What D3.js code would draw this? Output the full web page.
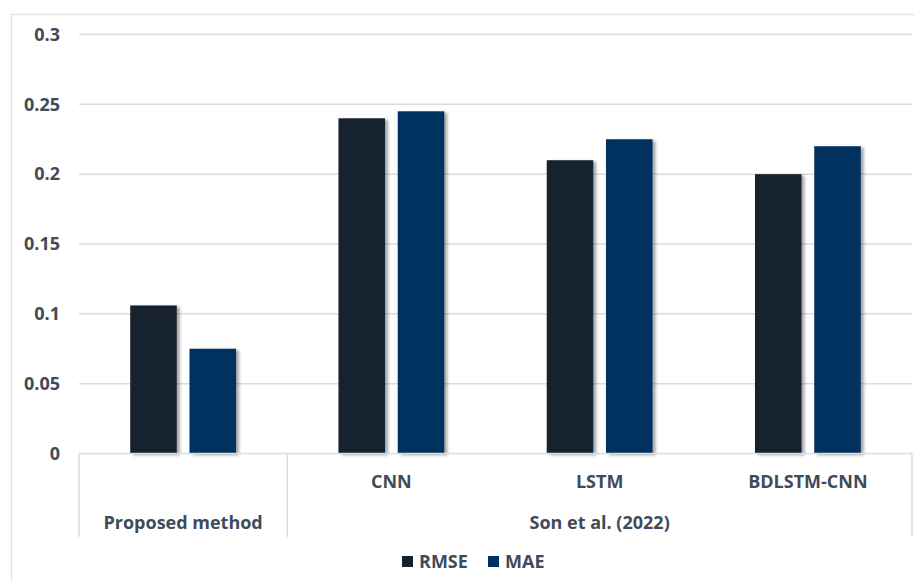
<!DOCTYPE html>
<html>
<head>
<meta charset="utf-8">
<script src="https://cdn.jsdelivr.net/npm/d3@7"></script>
<style>
  html, body { margin: 0; padding: 0; background: #fff; }
  svg { display: block; }
  text { font-family: "Open Sans", "Noto Sans", sans-serif; font-weight: 700; fill: #404b5a; }
</style>
</head>
<body>
<svg id="chart" width="915" height="581"></svg>
<script>
// Error metrics per model
const categories = ["Proposed method", "CNN", "LSTM", "BDLSTM-CNN"];
const groups = [
  { label: "Proposed method", members: ["Proposed method"], showSub: false },
  { label: "Son et al. (2022)", members: ["CNN", "LSTM", "BDLSTM-CNN"], showSub: true }
];
const seriesNames = ["RMSE", "MAE"];
const rmse = [0.106, 0.24, 0.21, 0.2];
const mae = [0.075, 0.245, 0.225, 0.22];
const yTicks = [0, 0.05, 0.1, 0.15, 0.2, 0.25, 0.3];
const colors = ["#16212e", "#00305f"];

const svg = d3.select("#chart");
const W = 915, H = 581;
const plot = { left: 79, right: 912, top: 34.5, bottom: 453.5 };

// outer frame (top and left edges)
svg.append("path")
  .attr("d", `M11.5,${H} L11.5,14.5 L${W},14.5`)
  .attr("fill", "none").attr("stroke", "#e3e3e3").attr("stroke-width", 1.5);

const x = d3.scaleBand().domain(categories).range([plot.left, plot.right]).padding(0);
const xs = d3.scaleBand().domain(seriesNames).range([0, x.bandwidth()])
  .paddingInner(0.2145).paddingOuter(0.864);
const y = d3.scaleLinear().domain([0, 0.3]).range([plot.bottom, plot.top]);

// gridlines
svg.append("g").selectAll("line").data(yTicks.filter(d => d > 0)).join("line")
  .attr("x1", plot.left).attr("x2", plot.right)
  .attr("y1", d => y(d)).attr("y2", d => y(d))
  .attr("stroke", "#dcdcdc").attr("stroke-width", 1.5);

// y tick labels
svg.append("g").selectAll("text").data(yTicks).join("text")
  .attr("x", 60).attr("y", d => y(d)).attr("dy", "0.35em")
  .attr("text-anchor", "end").attr("font-size", 18)
  .text(d => d3.format("~g")(d));

// bar shadow
const defs = svg.append("defs");
const f = defs.append("filter").attr("id", "shadow")
  .attr("x", "-20%").attr("y", "-10%").attr("width", "150%").attr("height", "130%");
f.append("feDropShadow").attr("dx", 3).attr("dy", 1.5).attr("stdDeviation", 1.6)
  .attr("flood-color", "#000").attr("flood-opacity", 0.35);

const data = categories.map((c, i) => ({ cat: c, values: [
  { s: "RMSE", v: rmse[i] }, { s: "MAE", v: mae[i] }
]}));

const gBars = svg.append("g");
data.forEach(d => {
  gBars.selectAll(null).data(d.values).join("rect")
    .attr("x", v => x(d.cat) + xs(v.s))
    .attr("width", xs.bandwidth())
    .attr("y", v => y(v.v))
    .attr("height", v => y(0) - y(v.v))
    .attr("fill", (v, i) => colors[i])
    .attr("filter", "url(#shadow)");
});

// category axis: baseline and group separators
const axisBottom = 537;
const axis = svg.append("g").attr("stroke", "#dcdcdc").attr("stroke-width", 1.5);
axis.append("line").attr("x1", plot.left).attr("x2", plot.right)
  .attr("y1", y(0)).attr("y2", y(0));
const seps = [x(groups[0].members[0]), x(groups[1].members[0]), plot.right];
axis.selectAll(null).data(seps).join("line")
  .attr("x1", d => d).attr("x2", d => d)
  .attr("y1", y(0)).attr("y2", axisBottom);

// sub-category labels
groups.filter(g => g.showSub).forEach(g => {
  svg.append("g").selectAll("text").data(g.members).join("text")
    .attr("x", d => x(d) + x.bandwidth() / 2).attr("y", 488)
    .attr("text-anchor", "middle").attr("font-size", 18)
    .text(d => d);
});

// group labels
svg.append("g").selectAll("text").data(groups).join("text")
  .attr("x", g => {
    const a = x(g.members[0]);
    const b = x(g.members[g.members.length - 1]) + x.bandwidth();
    return (a + b) / 2;
  })
  .attr("y", 529).attr("text-anchor", "middle").attr("font-size", 18)
  .text(g => g.label);

// legend
const legend = svg.append("g").attr("transform", "translate(402,556)");
const items = [
  { name: seriesNames[0], color: colors[0], x: 0 },
  { name: seriesNames[1], color: colors[1], x: 86 }
];
items.forEach(it => {
  legend.append("rect").attr("x", it.x).attr("y", 0).attr("width", 11).attr("height", 11)
    .attr("fill", it.color);
  legend.append("text").attr("x", it.x + 17).attr("y", 12)
    .attr("font-size", 18).text(it.name);
});
</script>
</body>
</html>
